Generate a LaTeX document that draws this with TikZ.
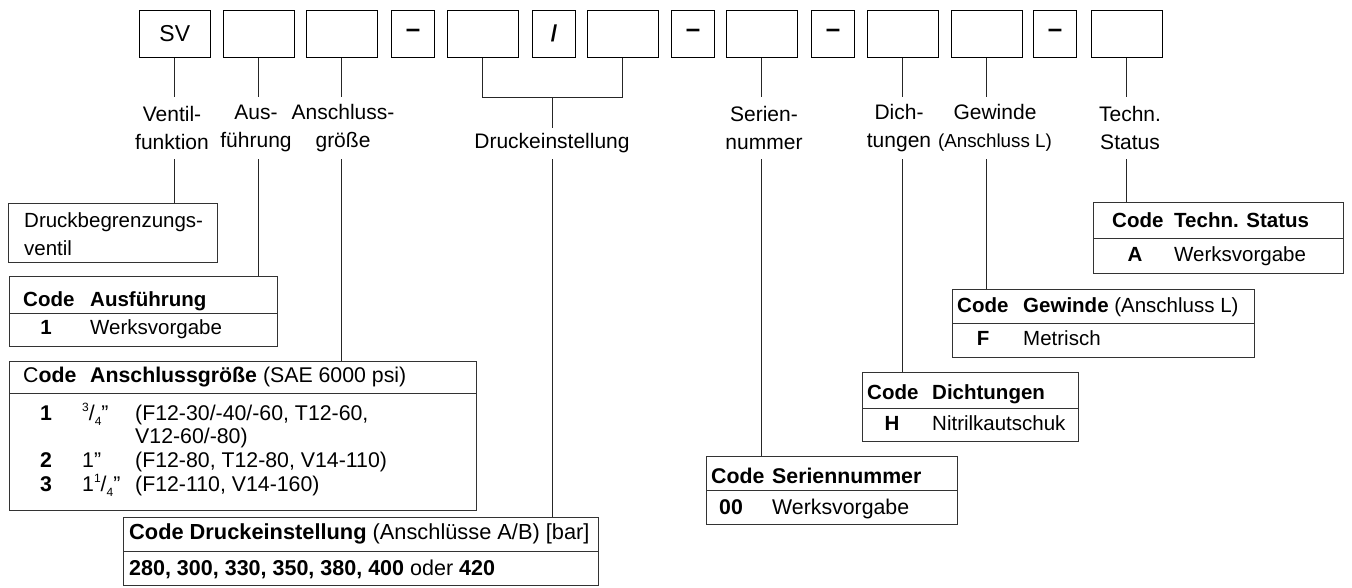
\documentclass[tikz,border=0pt]{standalone}
\usepackage{fontspec}
\setmainfont{Liberation Sans}
\newcommand\lblfont{\fontsize{21}{28}\selectfont}
\newcommand\tblfont{\fontsize{20.5}{24}\selectfont}
\newcommand\myfrac[2]{\raisebox{0.42em}{\fontsize{12}{12}\selectfont #1}/\raisebox{-0.25em}{\fontsize{12}{12}\selectfont #2}}
\begin{document}
\begin{tikzpicture}[x=1pt,y=-1pt,
  cbox/.style={draw, line width=1.1pt, minimum width=70.5pt, minimum height=47.5pt, inner sep=0pt, anchor=north west, font=\fontsize{23}{28}\selectfont},
  nbox/.style={cbox, minimum width=43pt},
  lbl/.style={align=center, inner sep=0pt, font=\lblfont, minimum height=62pt},
  tbl/.style={draw=black!80, line width=1pt, inner sep=0pt, anchor=north west},
  sepl/.style={draw=black!80, line width=1pt},
  conn/.style={draw=black!85, line width=0.8pt},
  tx/.style={inner sep=0pt, anchor=base west, font=\tblfont},
  txc/.style={inner sep=0pt, anchor=base, font=\tblfont\bfseries},
  big/.style={font=\fontsize{21.3}{24}\selectfont},
  bigc/.style={font=\fontsize{21.3}{24}\selectfont\bfseries},
]
\useasboundingbox (0,0) rectangle (1352,587);

% top row of code boxes
\node[cbox] (b1) at (139,9.5) {SV};
\node[cbox] (b2) at (223,9.5) {};
\node[cbox] (b3) at (306,9.5) {};
\node[nbox, font=\fontsize{26}{28}\selectfont\bfseries] (b4) at (391,9.5) {–};
\node[cbox] (b5) at (447,9.5) {};
\node[nbox, font=\fontsize{23}{28}\selectfont\bfseries] (b6) at (532,9.5) {/};
\node[cbox] (b7) at (587,9.5) {};
\node[nbox, font=\fontsize{26}{28}\selectfont\bfseries] (b8) at (671,9.5) {–};
\node[cbox] (b9) at (726,9.5) {};
\node[nbox, font=\fontsize{26}{28}\selectfont\bfseries] (b10) at (811,9.5) {–};
\node[cbox] (b11) at (867,9.5) {};
\node[cbox] (b12) at (951,9.5) {};
\node[nbox, font=\fontsize{26}{28}\selectfont\bfseries] (b13) at (1033,9.5) {–};
\node[cbox] (b14) at (1091,9.5) {};

% labels
\node[lbl] (l1) at (172,128) {Ventil-\\funktion};
\node[lbl] (l2) at (256,128) {Aus-\\führung};
\node[lbl] (l3) at (343,128) {Anschluss-\\größe};
\coordinate (brk) at (552,97);
\node[lbl, minimum height=31pt] (l5) at (552,143.5) {Druckeinstellung};
\node[lbl] (l9) at (764,128) {Serien-\\nummer};
\node[lbl] (l11) at (899,128) {Dich-\\tungen};
\node[lbl] (l12) at (995,128) {Gewinde\\{\fontsize{18.8}{28}\selectfont(Anschluss L)}};
\node[lbl] (l14) at (1130,128) {Techn.\\Status};

% tables
\node[tbl, minimum width=209pt, minimum height=59pt] (t1) at (8,203) {};
\node[tx, font=\fontsize{20.5}{28}\selectfont] (t1a) at (24,227) {Druckbegrenzungs-};
\node[tx, font=\fontsize{20.5}{28}\selectfont] (t1b) at (24,255) {ventil};

\node[tbl, minimum width=268pt, minimum height=70pt] (t2) at (9,276) {};
\draw[sepl] (t2.west |- 0,313) -- (t2.east |- 0,313);
\node[tx] (t2a) at (23,306) {\textbf{Code}};
\node[tx] (t2b) at (90,306) {\textbf{Ausführung}};
\node[txc] (t2c) at (46,334) {1};
\node[tx] (t2d) at (90,334) {Werksvorgabe};

\node[tbl, minimum width=467pt, minimum height=149pt] (t3) at (9,361) {};
\draw[sepl] (t3.west |- 0,393) -- (t3.east |- 0,393);
\node[tx, big] (t3a) at (23,382) {C\textbf{ode}};
\node[tx, big] (t3b) at (90,382) {\textbf{Anschlussgröße} (SAE 6000 psi)};
\node[txc, bigc] (t3c) at (46,420) {1};
\node[tx, big] (t3d) at (82,420) {\myfrac{3}{4}”};
\node[tx, big] (t3e) at (135,420) {(F12-30/-40/-60, T12-60,};
\node[tx, big] (t3f) at (135,443) {V12-60/-80)};
\node[txc, bigc] (t3g) at (46,467) {2};
\node[tx, big] (t3h) at (82,467) {1”};
\node[tx, big] (t3i) at (135,467) {(F12-80, T12-80, V14-110)};
\node[txc, bigc] (t3j) at (46,491) {3};
\node[tx, big] (t3k) at (82,491) {1\myfrac{1}{4}”};
\node[tx, big] (t3l) at (135,491) {(F12-110, V14-160)};

\node[tbl, minimum width=475pt, minimum height=68pt] (t5) at (123,517) {};
\draw[sepl] (t5.west |- 0,551) -- (t5.east |- 0,551);
\node[tx, font=\fontsize{21.8}{24}\selectfont] (t5a) at (129,539) {\textbf{Code Druckeinstellung} (Anschlüsse A/B) [bar]};
\node[tx, font=\fontsize{21.5}{24}\selectfont] (t5b) at (129,575) {\textbf{280, 300, 330, 350, 380, 400} oder \textbf{420}};

\node[tbl, minimum width=251pt, minimum height=68pt] (t9) at (706,456) {};
\draw[sepl] (t9.west |- 0,490) -- (t9.east |- 0,490);
\node[tx, big] (t9a) at (711,483) {\textbf{Code}};
\node[tx, big] (t9b) at (772,483) {\textbf{Seriennummer}};
\node[txc, bigc] (t9c) at (731,514) {00};
\node[tx, big] (t9d) at (772,514) {Werksvorgabe};

\node[tbl, minimum width=216pt, minimum height=69pt] (t11) at (862,372) {};
\draw[sepl] (t11.west |- 0,408) -- (t11.east |- 0,408);
\node[tx] (t11a) at (867,399) {\textbf{Code}};
\node[tx] (t11b) at (932,399) {\textbf{Dichtungen}};
\node[txc] (t11c) at (892,430) {H};
\node[tx] (t11d) at (932,430) {Nitrilkautschuk};

\node[tbl, minimum width=302pt, minimum height=68pt] (t12) at (952,289) {};
\draw[sepl] (t12.west |- 0,323) -- (t12.east |- 0,323);
\node[tx] (t12a) at (957,312) {\textbf{Code}};
\node[tx] (t12b) at (1023,312) {\textbf{Gewinde} (Anschluss L)};
\node[txc] (t12c) at (983,345) {F};
\node[tx] (t12d) at (1023,345) {Metrisch};

\node[tbl, minimum width=250pt, minimum height=71pt] (t14) at (1093,202) {};
\draw[sepl] (t14.west |- 0,238) -- (t14.east |- 0,238);
\node[tx] (t14a) at (1112,227) {\textbf{Code}};
\node[tx] (t14b) at (1174,227) {\textbf{Techn. Status}};
\node[txc] (t14c) at (1135,261) {A};
\node[tx] (t14d) at (1174,261) {Werksvorgabe};

% connectors: boxes to labels
\draw[conn] (b1.south) -- (b1.south |- l1.north);
\draw[conn] (b2.south) -- (b2.south |- l2.north);
\draw[conn] (b3.south) -- (b3.south |- l3.north);
\draw[conn] (b5.south) -- (b5.south |- brk) -- (b7.south |- brk) -- (b7.south);
\draw[conn] (brk) -- (brk |- l5.north);
\draw[conn] (b9.south) -- (b9.south |- l9.north);
\draw[conn] (b11.south) -- (b11.south |- l11.north);
\draw[conn] (b12.south) -- (b12.south |- l12.north);
\draw[conn] (b14.south) -- (b14.south |- l14.north);

% connectors: labels to tables
\draw[conn] (b1.south |- l1.south) -- (b1.south |- t1.north);
\draw[conn] (b2.south |- l2.south) -- (b2.south |- t2.north);
\draw[conn] (b3.south |- l3.south) -- (b3.south |- t3.north);
\draw[conn] (brk |- l5.south) -- (brk |- t5.north);
\draw[conn] (b9.south |- l9.south) -- (b9.south |- t9.north);
\draw[conn] (b11.south |- l11.south) -- (b11.south |- t11.north);
\draw[conn] (b12.south |- l12.south) -- (b12.south |- t12.north);
\draw[conn] (b14.south |- l14.south) -- (b14.south |- t14.north);
\end{tikzpicture}
\end{document}
